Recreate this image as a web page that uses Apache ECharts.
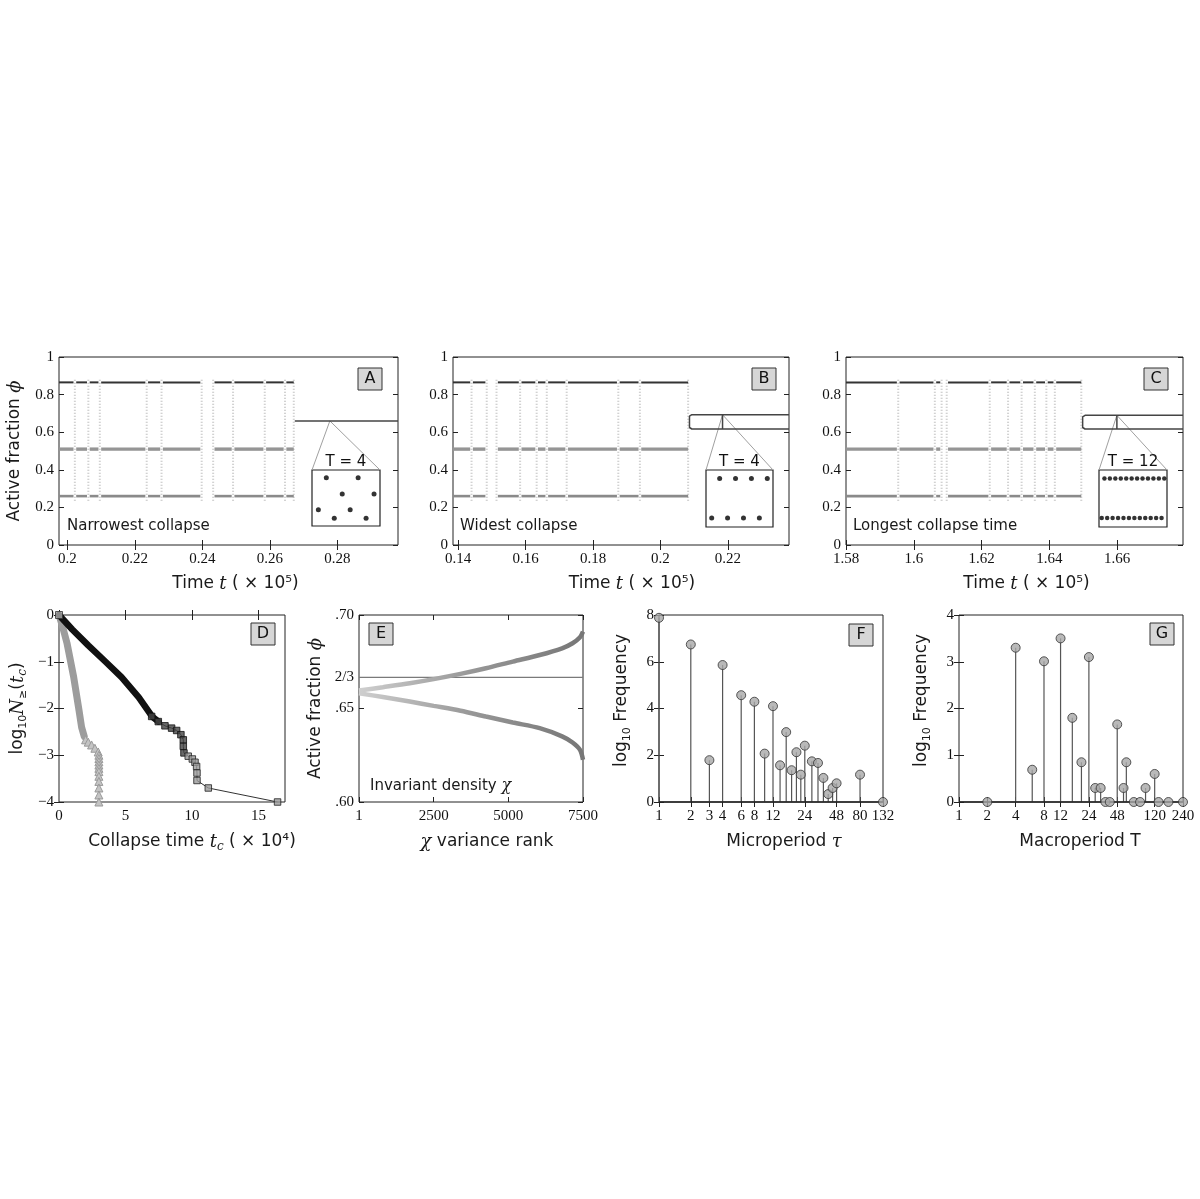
<!DOCTYPE html>
<html><head><meta charset="utf-8">
<script src="https://cdn.jsdelivr.net/npm/echarts@6/dist/echarts.min.js"></script>
<style>html,body{margin:0;padding:0;background:#fff}#c{width:1200px;height:1199px}</style>
</head><body><div id="c"></div><script>
// ================= DATA =================
// Panels A-C : time series of active fraction phi
const phiTicks = [0, 0.2, 0.4, 0.6, 0.8, 1];
const levels = [0.865, 0.51, 0.26];           // three macro-levels before collapse
const scatterSpan = [0.235, 0.89];            // extent of transition scatter
const aRange = [0.1975, 0.298];
const aXTicks = [0.2, 0.22, 0.24, 0.26, 0.28];
const aEvents = [[0.2022,0.2022],[0.2062,0.2062],[0.2096,0.2096],[0.2235,0.2235],[0.2279,0.2279],[0.2398,0.2432],[0.2491,0.2491],[0.2585,0.2585],[0.2645,0.2645]];
const aCollapse = 0.2671;
const aFinal = [0.66];
const aMarkT = 0.2778;
const bRange = [0.1385, 0.2381];
const bXTicks = [0.14, 0.16, 0.18, 0.2, 0.22];
const bEvents = [[0.1440,0.1440],[0.1485,0.1514],[0.1584,0.1584],[0.1633,0.1633],[0.1663,0.1663],[0.1722,0.1722],[0.1875,0.1875],[0.1939,0.1939]];
const bCollapse = 0.2082;
const bFinal = [0.693, 0.617];
const bMarkT = 0.2184;
const cRange = [1.58, 1.6794];
const cXTicks = [1.58, 1.6, 1.62, 1.64, 1.66];
const cEvents = [[1.5954,1.5954],[1.6062,1.6062],[1.6082,1.6097],[1.6224,1.6224],[1.6278,1.6278],[1.6318,1.6318],[1.6357,1.6357],[1.6391,1.6391],[1.6416,1.6416]];
const cCollapse = 1.6494;
const cFinal = [0.69, 0.617];
const cMarkT = 1.6599;
// insets (schematic states)
const insetAx = [1,2,3,4,5,6,7,8];
const insetAy = [0.29,0.86,0.14,0.57,0.29,0.86,0.14,0.57];
const insetBx = [1,2,3,4,5,6,7,8];
const insetBy = [0.16,0.85,0.16,0.85,0.16,0.85,0.16,0.85];
const insetCx = [1,2,3,4,5,6,7,8,9,10,11,12,13,14,15,16,17,18,19,20,21,22,23,24];
const insetCy = [0.16,0.85,0.16,0.85,0.16,0.85,0.16,0.85,0.16,0.85,0.16,0.85,0.16,0.85,0.16,0.85,0.16,0.85,0.16,0.85,0.16,0.85,0.16,0.85];
// Panel D : log10 N>=(tc) vs collapse time (x 1e4)
const dXTicks = [0, 5, 10, 15];
const dYTicks = [-4, -3, -2, -1, 0];
const dBlackDense = [[0,0],[1,-0.31],[2.2,-0.65],[3.5,-1.0],[4.7,-1.33],[6.0,-1.76],[7.0,-2.17],[7.47,-2.28]];
const dBlackTailDark = [[6.97,-2.17],[7.47,-2.28],[7.97,-2.37],[8.47,-2.42],[8.85,-2.47],[9.17,-2.56],[9.35,-2.67],[9.35,-2.81],[9.4,-2.95]];
const dBlackTailLight = [[9.72,-3.02],[10.03,-3.08],[10.23,-3.15],[10.35,-3.24],[10.38,-3.38],[10.38,-3.54],[11.23,-3.70],[16.44,-4.0]];
const dGrayDense = [[0,0],[0.3,-0.28],[0.6,-0.6],[1.1,-1.32],[1.5,-2.03],[1.7,-2.4],[1.9,-2.6]];
const dGrayTail = [[2.0,-2.67],[2.2,-2.72],[2.45,-2.78],[2.7,-2.85],[2.95,-2.93],[3.0,-3.0],[3.0,-3.07],[3.0,-3.14],[3.0,-3.21],[3.0,-3.28],[3.0,-3.35],[3.0,-3.45],[3.0,-3.56],[3.0,-3.7],[3.0,-3.85],[3.0,-4.0]];
const dStart = [[0,0]];
// Panel E : invariant density
const eXTicks = [1, 2500, 5000, 7500];
const eYTicks = [0.60, 0.65, 2/3, 0.70];
const eYLabels = ['.60', '.65', '2/3', '.70'];
const eRef = 2/3;
const eRank  = [1, 800, 1700, 2500, 3400, 4250, 5150, 6050, 6800, 7150, 7400, 7500];
const eUpper = [0.6596,0.6614,0.6635,0.6657,0.6685,0.6715,0.6751,0.6786,0.6822,0.6849,0.6881,0.6911];
const eLower = [0.6582,0.6561,0.6537,0.6514,0.6488,0.6457,0.6425,0.6395,0.6351,0.6318,0.6279,0.6226];
// Panel F : microperiod
const fXTicks = [1, 2, 3, 4, 6, 8, 12, 24, 48, 80, 132];
const fYTicks = [0, 2, 4, 6, 8];
const fTau     = [1, 2, 3, 4, 6, 8, 10, 12, 14, 16, 18, 20, 22, 24, 28, 32, 36, 40, 44, 48, 80, 132];
const fLogFreq = [7.88, 6.74, 1.79, 5.86, 4.57, 4.29, 2.07, 4.1, 1.57, 2.99, 1.36, 2.13, 1.17, 2.41, 1.74, 1.67, 1.03, 0.34, 0.6, 0.8, 1.17, 0];
// Panel G : macroperiod
const gXTicks = [1, 2, 4, 8, 12, 24, 48, 120, 240];
const gYTicks = [0, 1, 2, 3, 4];
const gT       = [2, 4, 6, 8, 12, 16, 20, 24, 28, 32, 36, 40, 48, 56, 60, 72, 84, 96, 120, 132, 168, 240];
const gLogFreq = [0, 3.3, 0.69, 3.01, 3.5, 1.8, 0.85, 3.1, 0.3, 0.3, 0, 0, 1.66, 0.3, 0.85, 0, 0, 0.3, 0.6, 0, 0, 0];

// ================= LAYOUT / STYLE =================
const AX = '#222';
const TXT = '#1a1a1a';
const tickLabel = {fontFamily: 'Liberation Serif', fontSize: 15, color: '#111'};
const R = {
  n: {fontFamily: 'DejaVu Sans', fontSize: 17, lineHeight: 22, color: TXT},
  i: {fontFamily: 'DejaVu Serif', fontStyle: 'italic', fontSize: 18, lineHeight: 22, color: TXT},
  s: {fontFamily: 'DejaVu Sans', fontSize: 11, lineHeight: 11, verticalAlign: 'bottom', color: TXT},
  si: {fontFamily: 'DejaVu Serif', fontStyle: 'italic', fontSize: 12, lineHeight: 11, verticalAlign: 'bottom', color: TXT}
};
const grids = [], xAxis = [], yAxis = [], series = [];

function addGrid(b) {
  grids.push({left: b[0], top: b[1], width: b[2], height: b[3], show: true, borderColor: AX, borderWidth: 1, backgroundColor: 'rgba(0,0,0,0)'});
  return grids.length - 1;
}
function axisDef(gi, pos, r, ticks, o) {
  const a = {
    type: 'value', gridIndex: gi, position: pos, min: r[0], max: r[1],
    axisLine: {show: false}, splitLine: {show: false},
    axisTick: {show: true, inside: true, length: 5, lineStyle: {color: AX, width: 1}, customValues: ticks},
    axisLabel: Object.assign({show: !!o.label, customValues: ticks, margin: (pos === 'bottom' ? 7 : 5),
      formatter: o.fmt || (v => String(+v.toFixed(6)))}, tickLabel)
  };
  if (o.name) {
    a.name = o.name; a.nameLocation = 'middle'; a.nameGap = o.gap;
    a.nameTextStyle = {fontFamily: 'DejaVu Sans', fontSize: 17, color: TXT, rich: R, padding: o.pad || 0};
  }
  return a;
}
function panel(box, xr, yr, xt, yt, o) {
  const gi = addGrid(box);
  const xi = xAxis.length;
  xAxis.push(axisDef(gi, 'bottom', xr, xt, {label: true, fmt: o.xFmt, name: o.xName, gap: o.xGap, pad: o.xPad}));
  xAxis.push(axisDef(gi, 'top', xr, xt, {}));
  const yi = yAxis.length;
  yAxis.push(axisDef(gi, 'left', yr, yt, {label: true, fmt: o.yFmt, name: o.yName, gap: o.yGap, pad: o.yPad}));
  yAxis.push(axisDef(gi, 'right', yr, yt, {}));
  return {gi, xi, yi, box};
}
function segSeries(p, rows, style, z) {
  return {type: 'custom', coordinateSystem: 'cartesian2d', xAxisIndex: p.xi, yAxisIndex: p.yi,
    data: rows, encode: {x: [0, 2], y: [1, 3]}, z: z || 2, silent: true,
    renderItem: (params, api) => {
      const a = api.coord([api.value(0), api.value(1)]);
      const b = api.coord([api.value(2), api.value(3)]);
      return {type: 'line', shape: {x1: a[0], y1: a[1], x2: b[0], y2: b[1]}, style: Object.assign({fill: null}, style)};
    }};
}
function levelRows(range, events, collapse, y) {
  const g = 0.0004, rows = [];
  let s = range[0];
  events.forEach(e => { rows.push([s, y, e[0] - g, y]); s = e[1] + g; });
  rows.push([s, y, collapse, y]);
  return rows;
}
function eventRows(events, collapse) {
  const rows = [];
  events.forEach(e => {
    rows.push([e[0], scatterSpan[0], e[0], scatterSpan[1]]);
    if (e[1] !== e[0]) rows.push([e[1], scatterSpan[0], e[1], scatterSpan[1]]);
  });
  rows.push([collapse, scatterSpan[0], collapse, scatterSpan[1]]);
  return rows;
}
function topPanel(p, range, events, collapse) {
  series.push(segSeries(p, eventRows(events, collapse), {stroke: '#c4c4c4', lineWidth: 2, lineDash: [1, 2]}, 1));
  series.push(segSeries(p, levelRows(range, events, collapse, levels[2]), {stroke: '#8a8a8a', lineWidth: 2.6}, 2));
  series.push(segSeries(p, levelRows(range, events, collapse, levels[1]), {stroke: '#959595', lineWidth: 3.4}, 2));
  series.push(segSeries(p, levelRows(range, events, collapse, levels[0]), {stroke: '#333', lineWidth: 2}, 3));
}
function pairShape(p, range, collapse, fin, markT) {
  const up = fin[0], lo = fin[1];
  series.push({type: 'line', xAxisIndex: p.xi, yAxisIndex: p.yi, symbol: 'none', silent: true, z: 3,
    lineStyle: {color: '#444', width: 1.5},
    data: [[range[1], up], [collapse + 0.0011, up], [collapse + 0.0004, up - 0.008], [collapse + 0.0004, lo + 0.008], [collapse + 0.0011, lo], [range[1], lo]]});
  series.push(segSeries(p, [[markT, lo, markT, up]], {stroke: '#444', lineWidth: 1.5}, 3));
}
function insetPanel(box, xr, xs, ys, size) {
  const gi = addGrid(box);
  grids[gi].backgroundColor = '#fff';
  grids[gi].borderWidth = 1.2;
  const xi = xAxis.length; xAxis.push({type: 'value', gridIndex: gi, min: xr[0], max: xr[1], show: false});
  const yi = yAxis.length; yAxis.push({type: 'value', gridIndex: gi, min: 0, max: 1, show: false});
  series.push({type: 'scatter', xAxisIndex: xi, yAxisIndex: yi, symbol: 'circle', symbolSize: size, z: 5,
    itemStyle: {color: '#000'}, data: xs.map((x, i) => [x, ys[i]])});
  return {gi, xi, yi, box};
}

// ---------- Panels A, B, C ----------
const timeName = '{n|Time }{i|t}{n| ( × 10⁵)}';
const phiName = '{n|Active fraction }{i|ϕ}';
const pA = panel([59, 357, 339, 188], aRange, [0, 1], aXTicks, phiTicks,
  {xName: timeName, xGap: 28, xPad: [0, 0, 0, 14], yName: phiName, yGap: 33});
const pB = panel([453, 357, 336, 188], bRange, [0, 1], bXTicks, phiTicks,
  {xName: timeName, xGap: 28, xPad: [0, 0, 0, 22]});
const pC = panel([846, 357, 337, 188], cRange, [0, 1], cXTicks, phiTicks,
  {xName: timeName, xGap: 28, xPad: [0, 0, 0, 24]});
topPanel(pA, aRange, aEvents, aCollapse);
topPanel(pB, bRange, bEvents, bCollapse);
topPanel(pC, cRange, cEvents, cCollapse);
series.push(segSeries(pA, [[aCollapse + 0.0003, aFinal[0], aRange[1], aFinal[0]]], {stroke: '#444', lineWidth: 1.5}, 3));
pairShape(pB, bRange, bCollapse, bFinal, bMarkT);
pairShape(pC, cRange, cCollapse, cFinal, cMarkT);
const iA = insetPanel([312, 470, 68, 56], [0.2, 8.75], insetAx, insetAy, 5);
const iB = insetPanel([706, 470, 67, 57], [0.28, 8.72], insetBx, insetBy, 5);
const iC = insetPanel([1099, 470, 68, 57], [0.0, 25.0], insetCx, insetCy, 4.5);

// ---------- Panel D ----------
const minusFmt = v => (v < 0 ? '−' + (-v) : String(v));
const pD = panel([59, 615, 226, 187], [0, 17], [-4, 0], dXTicks, dYTicks,
  {yFmt: minusFmt,
   xName: '{n|Collapse time }{i|t}{si|c}{n| ( × 10⁴)}', xGap: 29, xPad: [0, 0, 0, 40],
   yName: '{n|log}{s|10}{i|N}{s|≥}{n|(}{i|t}{si|c}{n|)}', yGap: 30});
series.push({type: 'line', xAxisIndex: pD.xi, yAxisIndex: pD.yi, data: dGrayDense, symbol: 'none', z: 2,
  lineStyle: {color: '#9c9c9c', width: 7, cap: 'round', join: 'round'}});
series.push({type: 'line', xAxisIndex: pD.xi, yAxisIndex: pD.yi, data: dGrayTail, symbol: 'triangle', symbolSize: 8, z: 2,
  lineStyle: {color: '#a5a5a5', width: 1}, itemStyle: {color: '#c4c4c4', borderColor: '#9a9a9a', borderWidth: 1}, clip: false});
series.push({type: 'line', xAxisIndex: pD.xi, yAxisIndex: pD.yi, data: dBlackDense, symbol: 'none', z: 3,
  lineStyle: {color: '#111', width: 6.5, cap: 'round', join: 'round'}});
series.push({type: 'line', xAxisIndex: pD.xi, yAxisIndex: pD.yi, data: dBlackTailDark.concat(dBlackTailLight), symbol: 'none', z: 3,
  lineStyle: {color: '#333', width: 1}});
series.push({type: 'scatter', xAxisIndex: pD.xi, yAxisIndex: pD.yi, data: dBlackTailDark, symbol: 'rect', symbolSize: 6.5, z: 4,
  itemStyle: {color: '#444', borderColor: '#111', borderWidth: 1}, clip: false});
series.push({type: 'scatter', xAxisIndex: pD.xi, yAxisIndex: pD.yi, data: dBlackTailLight, symbol: 'rect', symbolSize: 6.5, z: 4,
  itemStyle: {color: '#9a9a9a', borderColor: '#222', borderWidth: 1}, clip: false});
series.push({type: 'scatter', xAxisIndex: pD.xi, yAxisIndex: pD.yi, data: dStart, symbol: 'rect', symbolSize: 7, z: 5,
  itemStyle: {color: '#aaa', borderColor: '#333', borderWidth: 1}, clip: false});

// ---------- Panel E ----------
const pE = panel([359, 615, 224, 187], [1, 7500], [0.6, 0.7], eXTicks, eYTicks,
  {yFmt: v => eYLabels[eYTicks.findIndex(t => Math.abs(t - v) < 1e-6)],
   xName: '{i|χ}{n| variance rank}', xGap: 29, xPad: [0, 0, 0, 32],
   yName: phiName, yGap: 32});
series.push(segSeries(pE, [[eXTicks[0], eRef, eXTicks[3], eRef]], {stroke: '#7a7a7a', lineWidth: 1.3}, 2));
const eGrad = {type: 'linear', x: 0, y: 0, x2: 1, y2: 0, colorStops: [{offset: 0, color: '#d0d0d0'}, {offset: 0.5, color: '#979797'}, {offset: 1, color: '#767676'}]};
series.push({type: 'line', xAxisIndex: pE.xi, yAxisIndex: pE.yi, symbol: 'none', z: 3, smooth: 0.3,
  lineStyle: {color: eGrad, width: 4.5}, data: eRank.map((r, i) => [r, eUpper[i]])});
series.push({type: 'line', xAxisIndex: pE.xi, yAxisIndex: pE.yi, symbol: 'none', z: 3, smooth: 0.3,
  lineStyle: {color: eGrad, width: 4.5}, data: eRank.map((r, i) => [r, eLower[i]])});

// ---------- Panels F, G (log2 x) ----------
function stemPanel(box, xTicks, yTicks, xs, ys, yMax, name) {
  const xr = [0, Math.log2(xTicks[xTicks.length - 1])];
  const p = panel(box, xr, [0, yMax], xTicks.map(Math.log2), yTicks,
    {xFmt: v => String(xTicks[xTicks.map(Math.log2).findIndex(t => Math.abs(t - v) < 1e-6)]),
     xName: name.x, xGap: 29, xPad: name.pad,
     yName: '{n|log}{s|10}{n| Frequency}', yGap: 26, yPad: [0, 0, 0, 16]});
  const li = xAxis.length;
  xAxis.push({type: 'log', logBase: 2, gridIndex: p.gi, min: xTicks[0], max: xTicks[xTicks.length - 1], show: false});
  const data = xs.map((x, i) => [x, ys[i]]);
  series.push({type: 'custom', coordinateSystem: 'cartesian2d', xAxisIndex: li, yAxisIndex: p.yi, data: data, z: 2, silent: true,
    encode: {x: 0, y: 1},
    renderItem: (params, api) => {
      const a = api.coord([api.value(0), 0]);
      const b = api.coord([api.value(0), api.value(1)]);
      return {type: 'line', shape: {x1: a[0], y1: a[1], x2: b[0], y2: b[1]}, style: {stroke: '#555', lineWidth: 1.2}};
    }});
  series.push(segSeries({xi: p.xi, yi: p.yi}, [[xr[0], 0, xr[1], 0]], {stroke: '#222', lineWidth: 1.6}, 2));
  series.push({type: 'scatter', xAxisIndex: li, yAxisIndex: p.yi, data: data, symbol: 'circle', symbolSize: 9, z: 4, clip: false,
    itemStyle: {color: '#a8a8a8', borderColor: '#333', borderWidth: 1}});
  return p;
}
const pF = stemPanel([659, 615, 224, 187], fXTicks, fYTicks, fTau, fLogFreq, 8,
  {x: '{n|Microperiod }{i|τ}', pad: [0, 0, 0, 26]});
const pG = stemPanel([959, 615, 224, 187], gXTicks, gYTicks, gT, gLogFreq, 4,
  {x: '{n|Macroperiod T}', pad: [0, 0, 0, 18]});

const chart = echarts.init(document.getElementById('c'), null, {renderer: 'canvas'});
chart.setOption({animation: false, backgroundColor: '#fff', grid: grids, xAxis: xAxis, yAxis: yAxis, series: series});

// ---------- Decorations (letter boxes, in-plot text, inset connectors) ----------
const graphic = [];
function letterBox(x, y, t) {
  graphic.push({type: 'rect', shape: {x: x, y: y, width: 24, height: 22}, style: {fill: '#d6d6d6', stroke: '#333', lineWidth: 1}, z: 10});
  graphic.push({type: 'text', x: x + 12, y: y + 11, style: {text: t, fontFamily: 'DejaVu Sans', fontSize: 16, fill: '#111', align: 'center', verticalAlign: 'middle'}, z: 11});
}
letterBox(358, 368, 'A'); letterBox(752, 368, 'B'); letterBox(1144, 368, 'C');
letterBox(251, 623, 'D'); letterBox(369, 623, 'E'); letterBox(849, 624, 'F'); letterBox(1150, 623, 'G');
function note(x, y, t, rich) {
  graphic.push({type: 'text', x: x, y: y, style: {text: t, rich: rich, fontFamily: 'DejaVu Sans', fontSize: 15, fill: TXT, align: 'left', verticalAlign: 'middle'}, z: 11});
}
note(67, 526, 'Narrowest collapse');
note(460, 526, 'Widest collapse');
note(853, 526, 'Longest collapse time');
note(370, 786, '{n|Invariant density }{g|χ}', {n: {fontFamily: 'DejaVu Sans', fontSize: 15, fill: TXT}, g: {fontFamily: 'DejaVu Serif', fontStyle: 'italic', fontSize: 16, fill: TXT}});
function inset(ins, p, t, y, label) {
  const b = ins.box;
  const q = chart.convertToPixel({xAxisIndex: p.xi, yAxisIndex: p.yi}, [t, y]);
  graphic.push({type: 'polyline', shape: {points: [[b[0], b[1]], q, [b[0] + b[2], b[1]]]}, style: {stroke: '#a0a0a0', lineWidth: 1, fill: null}, z: 1});
  graphic.push({type: 'text', x: b[0] + b[2] / 2, y: b[1] - 8, style: {text: label, fontFamily: 'DejaVu Sans', fontSize: 15, fill: '#111', align: 'center', verticalAlign: 'middle'}, z: 11});
}
inset(iA, pA, aMarkT, aFinal[0], 'T = 4');
inset(iB, pB, bMarkT, bFinal[0], 'T = 4');
inset(iC, pC, cMarkT, cFinal[0], 'T = 12');
chart.setOption({graphic: graphic});
</script></body></html>
